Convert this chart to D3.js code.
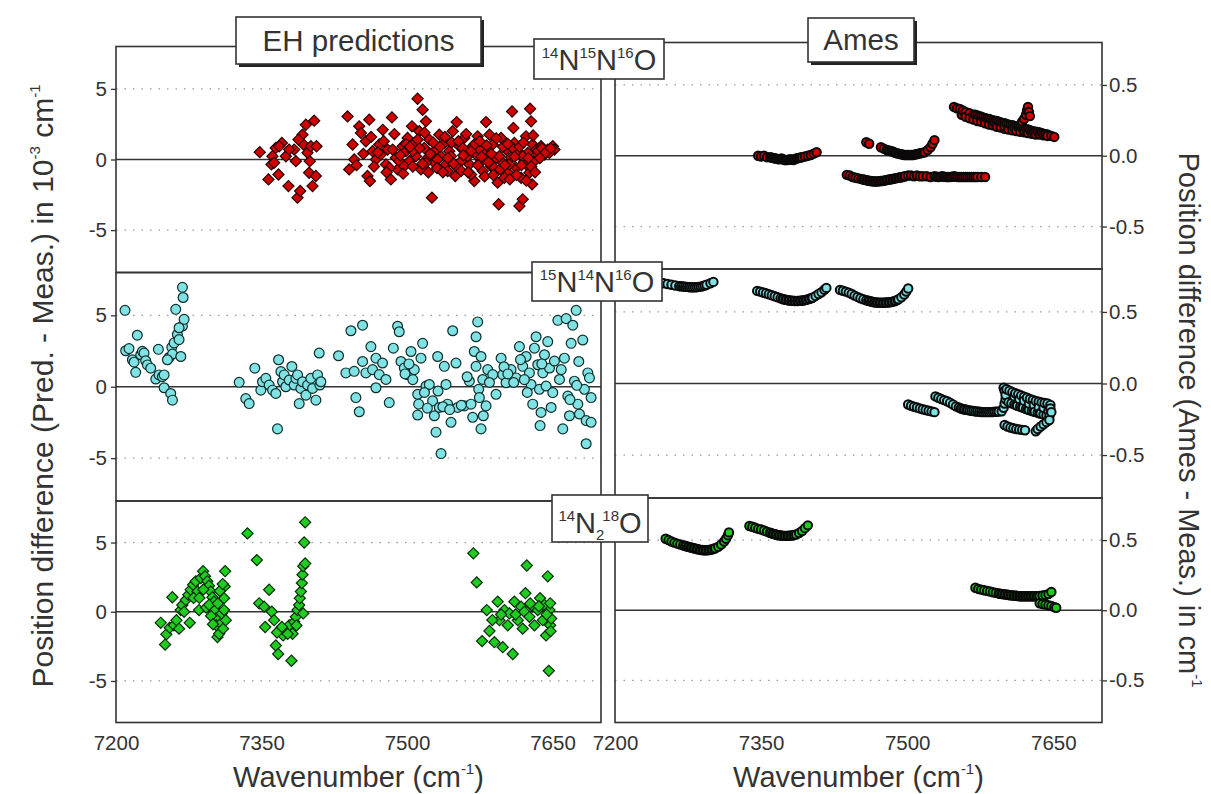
<!DOCTYPE html>
<html>
<head>
<meta charset="utf-8">
<script src="https://cdn.jsdelivr.net/npm/d3@7"></script>
<style>
  body { margin: 0; background: #fff; }
  svg { display: block; }
  text { font-family: "Liberation Sans", Arial, sans-serif; fill: #333; }
</style>
</head>
<body>
<svg id="chart" width="1211" height="794"></svg>
<script>
// ---- tick values -------------------------------------------------------
const xTicks = [7200, 7350, 7500, 7650];
const ehTicks = [-5, 0, 5];          // 10^-3 cm^-1
const amesTicks = [-0.5, 0, 0.5];    // cm^-1

// ---- EH predictions: [wavenumber, Pred - Meas (10^-3 cm^-1)] -------------
const ehRed = [
  [7348.2,0.52],[7357.2,-1.41],[7361.3,0.23],[7360.3,-0.35],[7364.7,0.82],[7367.5,-1.06],[7371,1.17],[7377.8,-1.88],
  [7383.7,0.7],[7385.4,-0.12],[7387.1,-2.7],[7389.9,-2.23],[7392.3,1.76],[7393.3,1.06],[7395.7,2.46],[7397.4,0.47],
  [7399.1,-0.94],[7399.8,-0.12],[7400.9,0.94],[7402.6,-1.88],[7404.3,2.75],[7406,-1.17],[7406.7,0.94],[7368.2,0.94],
  [7363,-0.23],[7375.1,0.23],[7388.1,1.41],[7378.5,0.7],
  [7438.7,3.05],[7440.4,-0.7],[7443.9,1.06],[7445.6,0],[7450.7,2.35],[7452.5,1.88],[7457.6,1.29],[7459.3,-1.17],
  [7461.1,2.82],[7461.8,-1.53],[7464.5,0.59],[7468,0],[7471.4,1.06],[7473.1,0.35],[7478.3,-0.35],[7480,0.7],
  [7483.4,-1.41],[7484.5,2.98],[7485.2,0.7],[7488.6,0.12],[7490.3,-0.7],[7495.5,0.94],[7498.9,0.59],[7500.6,1.53],
  [7502.3,-0.12],[7505.1,2.35],[7507.5,1.17],[7509.2,0.23],[7510.9,4.3],[7512.7,2],[7514.4,-0.7],[7516.1,3.52],
  [7517.8,0.82],[7519.5,2.7],[7521.3,0.12],[7523,1.41],[7525.7,-2.7],[7528.1,-0.23],[7529.9,0.7],[7533.3,1.76],
  [7535,0.23],[7538.5,1.17],[7540.2,-0.35],[7543.6,0.59],[7547.1,2],[7549.8,-1.17],[7551.2,2.65],[7554,0.94],
  [7555.7,-0.12],[7559.1,1.53],[7560.8,0.47],[7564.3,-0.35],[7567.7,0.94],[7569.4,-1.53],[7571.2,0.35],[7572.9,1.64],
  [7576.3,-0.12],[7578.1,-0.82],[7581.5,2.65],[7583.2,0.59],[7585,1.76],[7586.7,-0.47],[7588.4,1.06],[7591.8,0.12],
  [7593.5,-1.64],[7594.5,-3.17],[7597,1.53],[7598.7,-0.23],[7602.1,0.7],[7603.8,-0.94],[7607.3,0.16],[7608.3,3.4],
  [7609.7,2.23],[7610.7,1.17],[7612.5,-0.59],[7614.2,0.59],[7615.9,-3.29],[7617.6,-1.29],[7619.3,-2.82],[7621,-0.12],
  [7622.7,1.64],[7624.5,0.47],[7626.2,-0.94],[7626.9,3.59],[7627.9,2.7],[7629,-1.76],[7629.6,1.06],[7631.4,-0.12],
  [7633.1,0.7],[7638.2,0.94],[7641.7,0.35],[7645.1,0.7],[7650.3,0.94],[7652,0.7],
  [7492,-0.12],[7497.2,-0.47],[7505.8,0.59],[7519.5,-0.23],[7531.6,0],[7541.9,-0.82],[7545.3,0.23],[7552.2,-0.59],
  [7557.4,0.82],[7562.5,0.23],[7566,-1.06],[7574.6,0.7],[7579.8,0.35],[7590.1,-0.59],[7595.2,0.23],[7600.4,-1.29],
  [7605.5,-0.35],[7609,0.82],[7619.3,0.23],[7622.7,-0.35],[7634.8,0.35],[7640,0.59],[7646.8,0.47],
  [7470,0.5],[7476,1.3],[7482,-0.6],[7487,1.8],[7493,0.3],[7496,-1.0],[7499,1.1],[7503,0.9],[7506,-0.5],[7511,1.4],
  [7513,0.8],[7516,-0.3],[7518,1.9],[7522,-0.9],[7524,0.4],[7527,1.2],[7531,-0.6],[7534,0.9],[7537,-0.9],[7539,1.6],
  [7542,0.1],[7546,1.2],[7548,-0.3],[7553,1.3],[7556,-0.8],[7558,0.3],[7561,1.8],[7563,-0.9],[7566,0.6],[7570,1.1],
  [7573,-0.4],[7575,1.3],[7577,0.2],[7580,-1.2],[7582,1.0],[7584,-0.2],[7587,0.4],[7589,-1.1],[7592,1.5],[7596,-0.7],
  [7599,0.9],[7601,-0.4],[7604,1.1],[7606,-1.4],[7611,0.2],[7613,-1.1],[7616,0.9],[7618,-0.4],[7620,1.2],[7623,-1.5],
  [7625,0.1],[7628,-0.5],[7630,1.7],[7632,-0.9],[7635,0.6],[7637,0.1],[7639,0.8],[7643,0.5],[7648,0.8],[7455,0.4],
  [7448,-0.4],[7463,1.6],[7466,-0.5],[7475,2.1],[7479,-0.9]
];

const ehCyan = [
  [7209.3,5.35],[7210,2.52],[7213.4,2.67],[7216.9,1.89],[7218.6,1.72],[7220.3,1.01],[7222,3.61],[7225.5,2.24],
  [7227.2,2.48],[7228.9,2.36],[7230.6,1.82],[7232.4,1.53],[7235.8,1.3],[7241,0.54],[7243.7,2.62],[7244.4,0.83],
  [7247.8,0.71],[7249.6,0.83],[7249.6,-0.07],[7254.7,2.05],[7256.4,-0.47],[7258.2,-0.94],[7257.5,2.76],[7258.2,2.29],
  [7259.9,3.07],[7261.6,5.42],[7263.3,3.66],[7265,3.3],[7266.8,2.12],[7268.5,6.96],[7269.2,6.25],[7268.5,4.25],
  [7270.2,4.72],[7265,4.13],[7253,1.89],
  [7327,0.31],[7333.8,-0.83],[7337.3,-1.18],[7343.1,1.3],[7349.3,-0.24],[7351,0.35],[7354.5,0.59],[7357.9,0.12],
  [7361.4,-0.24],[7364.8,-0.47],[7366.5,-2.95],[7367.6,1.89],[7370,1.06],[7371.7,0.35],[7373.4,0.83],[7375.1,0],
  [7378.6,0.47],[7381.3,1.42],[7383.7,0.12],[7385.4,0.59],[7387.2,0.83],[7388.9,-1.18],[7390.6,-0.12],[7392.3,0.35],
  [7395.8,-0.59],[7397.5,0.12],[7400.9,0.59],[7402.6,-0.12],[7406.1,-0.94],[7407.8,0.83],[7409.5,2.36],[7410.2,0.12],
  [7411.2,0.35],
  [7429.4,2.17],[7437,0.97],[7442.2,3.92],[7447.3,-0.76],[7450.8,-1.75],[7445.6,1.08],[7454.2,4.31],[7454.2,1.77],
  [7457.6,0.97],[7462.8,2.81],[7464.5,1.2],[7468,2],[7468,-0.07],[7471.4,0.85],[7474.8,1.66],[7478.3,0.51],
  [7481.7,-1.11],[7485.9,2.7],[7490.3,4.24],[7492,3.85],[7493.8,1.77],[7497.2,1.31],[7500.6,0.85],[7504.1,2.47],
  [7507.5,1.2],[7511,-0.53],[7512,-1.22],[7511,-1.98],[7514.4,2],[7516.1,3.04],[7519.6,0.05],[7523,0.16],
  [7526.4,-0.99],[7528.2,-2.03],[7529.9,-3.18],[7531.6,2.12],[7533.3,-1.45],[7535.1,-4.68],[7538.5,1.43],[7540.2,0.16],
  [7541.9,-1.22],[7545.4,-2.49],[7547.1,3.92],[7550.5,1.66],[7552.2,-1.45],[7559.1,-1.34],[7564.3,0.39],[7566,-1.22],
  [7567.7,-2.14],[7569.4,2.47],[7571.2,1.43],[7571.2,3.5],[7572.9,4.54],[7573.9,-0.18],[7574.6,-0.76],[7576.3,-2.95],
  [7576.3,2.12],[7578.1,0.51],[7578.7,-2.03],[7581.5,-1.34],[7583.2,1.2],[7588.4,0.85],[7591.8,-0.53],[7597,2],
  [7598.7,0.85],[7602.1,0.28],[7607.3,1.2],[7612.5,0.62],[7615.9,2.81],[7619.3,1.43],[7622.8,2.12],[7626.2,0.97],
  [7627.9,0.16],[7629.6,-1.22],[7631.4,2.7],[7633.1,3.5],[7634.8,1.54],[7636.5,-0.18],[7637.2,-2.72],[7638.2,-1.8],
  [7640,0.97],[7641.7,2.24],[7643.4,0.05],[7645.1,3.16],[7646.9,1.31],[7648.6,-1.45],[7650.3,-0.41],[7655.5,4.65],
  [7657.2,0.51],[7660.6,-2.95],[7662.3,2],[7664.1,4.77],[7665.8,-0.65],[7667.5,-2.03],[7669.2,3.04],[7670.9,4.31],
  [7672.6,0.39],[7674.4,5.35],[7676.1,-1.22],[7677.1,1.77],[7677.8,-1.91],[7681.2,3.27],[7682.9,-0.18],[7684.7,-2.37],
  [7684.7,-3.99],[7686.4,0.97],[7688.1,0.62],[7689.8,-0.76],[7689.8,-2.49],
  [7498,0.9],[7502,1.6],[7506,0.5],[7518,-0.4],[7521,-1.5],[7532,-0.3],[7537,-1.4],[7544,-1.6],[7556,-1.3],
  [7562,0.7],[7585,0.3],[7600,1.4],[7604,0.9],[7610,0.3],[7617,1.9],[7621,0.5],[7624,-0.4],[7639,1.6],[7652,1.8],
  [7659,1.2],[7668,-0.9],[7675,0.1]
];

const ehGreen = [
  [7246.1,-0.8],[7250.6,-2.37],[7251.9,-1.63],[7255.4,-1.15],[7258.1,1.05],[7259.8,-0.98],[7262.3,-0.61],[7265,-1.22],
  [7266.7,0.12],[7268.4,0.49],[7270.2,0],[7271.9,0.85],[7274.6,1.22],[7276,-0.8],[7277,1.59],[7279.5,1.95],
  [7282.2,2.2],[7283.9,1.46],[7285.6,0.12],[7287.4,2.44],[7289.8,2.93],[7291.8,2.56],[7294.2,2.2],[7295.9,1.88],
  [7297.7,1.46],[7299.4,1.05],[7301.1,0.73],[7302.2,0.12],[7302.9,-0.49],[7303.5,-0.98],[7304.6,-1.83],[7306.3,-1.59],
  [7308,-0.85],[7309,-0.12],[7310.4,-1.22],[7311.4,0.12],[7311.4,0.98],[7312.1,1.83],[7312.5,2.93],[7313.2,-0.61],
  [7280,1.0],[7286,1.0],[7290,1.6],[7293,0.3],[7296,0.5],[7298,-0.3],[7300,-0.9],[7305,0.6],[7307,1.5],[7310,2.0],
  [7335.5,5.66],[7345.2,3.73],[7347.6,0.61],[7352.7,0.37],[7353.8,-1.1],[7357.9,1.59],[7360.6,0],[7363,-0.61],
  [7364.8,-2.44],[7367.2,-3.05],[7369.9,-1.22],[7372.3,-1.71],[7375.1,-1.34],[7378.5,-0.98],[7380.9,-3.54],[7382,-1.59],
  [7383.7,-0.73],[7385.4,-0.37],[7387.1,0.12],[7388.8,0.49],[7389.5,0.98],[7390.6,1.46],[7391.6,2.07],[7392.3,2.68],
  [7393,3.29],[7394,5],[7395,6.46],[7395,3.49],[7393,-0.12],[7366,-1.5],[7371,-1.1],[7377,-1.6],[7386,-1.0],
  [7568.4,4.22],[7571.9,2.12],[7577.4,-2.12],[7582.2,0.12],[7585,-1.39],[7590.1,-2.2],[7593.5,0.73],[7595.3,-0.61],
  [7598.7,-2.56],[7600.4,0.12],[7603.9,-0.98],[7605.6,-0.12],[7609,-3.05],[7610.7,0.73],[7614.2,-0.61],[7617.6,0.37],
  [7619.3,-1.22],[7621,0],[7622.1,1.34],[7623.5,3.34],[7626.2,-0.37],[7629.6,0.37],[7631.4,-0.98],[7634.8,0.12],
  [7637.2,0.98],[7640,-0.61],[7641.7,0.49],[7643.4,-1.71],[7645.1,2.56],[7646.2,-4.27],[7646.9,0.12],[7647.6,-0.98],
  [7648.6,-0.49],[7647.6,0.61],[7588,-0.6],[7597,-0.2],[7612,-0.2],[7627,0.6],[7636,0.4],[7644,-0.2],[7648,-1.4]
];

// ---- Ames: [wavenumber, Ames - Meas (cm^-1)] ----------------------------
const amesRed = [
  [7347,0],[7350,-0.005],[7353,0],[7356,-0.01],[7359,-0.01],[7362,-0.015],[7365,-0.02],[7368,-0.025],[7371,-0.02],
  [7374,-0.03],[7377,-0.03],[7380,-0.025],[7383,-0.03],[7386,-0.02],[7389,-0.015],[7392,-0.01],[7395,-0.005],
  [7398,0],[7401,0.005],[7404,0.015],[7407,0.025],
  [7360.5,-0.012],[7363.5,-0.018],[7366.5,-0.022],[7369.5,-0.023],[7372.5,-0.025],[7375.5,-0.03],[7378.5,-0.028],
  [7381.5,-0.028],[7384.5,-0.025],[7387.5,-0.018],[7390.5,-0.012],
  [7458,0.095],[7461,0.085],[7473,0.06],[7476,0.05],[7479,0.04],[7482,0.035],[7485,0.03],[7488,0.02],[7491,0.015],
  [7494,0.01],[7497,0.005],[7500,0.005],[7503,0.005],[7506,0.005],[7509,0.01],[7512,0.015],[7515,0.02],[7518,0.025],
  [7480.5,0.038],[7483.5,0.032],[7486.5,0.025],[7489.5,0.018],[7492.5,0.012],[7495.5,0.008],[7498.5,0.005],
  [7501.5,0.005],[7504.5,0.005],[7507.5,0.008],[7510.5,0.012],[7513.5,0.018],[7516.5,0.022],
  [7521,0.04],[7524,0.06],[7526,0.085],[7528,0.11],
  [7438,-0.135],[7441,-0.14],[7444,-0.15],[7447,-0.155],[7450,-0.16],[7453,-0.165],[7456,-0.17],[7459,-0.175],
  [7462,-0.178],[7465,-0.18],[7468,-0.182],[7471,-0.18],[7474,-0.178],[7477,-0.175],[7480,-0.17],[7483,-0.166],
  [7486,-0.162],[7489,-0.158],[7492,-0.154],[7495,-0.15],[7498,-0.145],[7501,-0.14],[7504,-0.14],[7507,-0.145],
  [7455,-0.168],[7458,-0.172],[7461,-0.177],[7464,-0.18],[7467,-0.182],[7470,-0.181],[7473,-0.179],[7476,-0.176],
  [7479,-0.172],[7482,-0.168],[7485,-0.164],[7488,-0.16],[7491,-0.156],[7494,-0.152],[7497,-0.147],
  [7510,-0.14],[7513,-0.145],[7516,-0.145],[7520,-0.145],[7524,-0.15],[7528,-0.145],[7532,-0.15],[7536,-0.145],
  [7530,-0.148],[7534,-0.148],[7538,-0.148],[7542,-0.15],[7546,-0.148],[7550,-0.148],[7554,-0.15],[7558,-0.15],
  [7562,-0.15],[7566,-0.15],[7570,-0.15],
  [7540,-0.15],[7544,-0.15],[7548,-0.145],[7552,-0.15],[7556,-0.15],[7560,-0.15],[7564,-0.15],[7568,-0.15],
  [7572,-0.15],[7576,-0.15],[7580,-0.15],
  [7548,0.345],[7551,0.335],[7554,0.33],[7557,0.32],[7560,0.31],[7564,0.3],[7568,0.29],[7572,0.285],[7576,0.275],
  [7580,0.265],[7584,0.26],[7588,0.25],[7592,0.245],[7596,0.235],[7600,0.23],[7604,0.22],[7608,0.215],[7612,0.205],
  [7616,0.2],[7620,0.19],[7624,0.185],[7628,0.175],[7632,0.17],[7636,0.165],[7640,0.155],[7644,0.15],[7648,0.14],
  [7651,0.133],
  [7556,0.29],[7560,0.275],[7564,0.265],[7568,0.255],[7572,0.245],[7576,0.24],[7580,0.23],[7584,0.22],[7588,0.215],
  [7592,0.205],[7596,0.2],[7600,0.19],[7604,0.185],[7608,0.18],[7612,0.175],[7616,0.17],[7620,0.165],[7624,0.16],
  [7628,0.155],[7632,0.15],[7636,0.15],[7640,0.145],[7644,0.14],
  [7570,0.29],[7574,0.28],[7578,0.27],[7582,0.262],[7586,0.255],[7590,0.248],[7594,0.24],[7598,0.232],[7602,0.225],
  [7606,0.218],[7610,0.21],[7614,0.202],[7618,0.195],[7622,0.188],[7626,0.18],[7630,0.172],[7634,0.168],[7638,0.16],
  [7642,0.152],[7590,0.23],[7600,0.21],[7610,0.195],[7620,0.178],[7630,0.163],[7640,0.15],
  [7618,0.24],[7620,0.26],[7622,0.29],[7623,0.32],[7624,0.345],[7625,0.31],[7626,0.28]
];

const amesCyan = [
  [7250,0.7],[7254,0.695],[7258,0.69],[7262,0.685],[7266,0.68],[7270,0.678],[7274,0.675],[7278,0.672],[7282,0.672],
  [7286,0.675],[7290,0.68],[7294,0.69],[7298,0.7],[7301,0.71],
  [7268,0.679],[7272,0.676],[7276,0.673],[7280,0.672],[7284,0.673],[7288,0.677],[7292,0.685],
  [7346,0.647],[7349,0.642],[7352,0.636],[7355,0.63],[7358,0.624],[7361,0.617],[7364,0.61],[7367,0.603],[7370,0.595],
  [7373,0.588],[7376,0.584],[7379,0.58],[7382,0.578],[7385,0.577],[7388,0.577],[7391,0.578],[7394,0.582],[7397,0.586],
  [7372,0.59],[7375,0.585],[7378,0.582],[7381,0.579],[7384,0.577],[7387,0.577],[7390,0.578],[7393,0.58],[7396,0.584],
  [7399,0.59],[7402,0.597],
  [7400,0.592],[7403,0.6],[7406,0.612],[7409,0.625],[7412,0.638],[7415,0.655],[7417,0.668],
  [7431,0.654],[7434,0.648],[7437,0.642],[7440,0.635],[7443,0.625],[7446,0.614],[7449,0.605],[7452,0.596],[7455,0.588],
  [7458,0.582],[7461,0.576],[7464,0.571],[7467,0.567],[7470,0.565],[7473,0.564],[7476,0.565],[7479,0.566],[7482,0.568],
  [7460,0.578],[7463,0.573],[7466,0.568],[7469,0.566],[7472,0.564],[7475,0.564],[7478,0.566],[7481,0.567],[7484,0.57],
  [7487,0.575],[7490,0.584],
  [7485,0.572],[7488,0.578],[7491,0.588],[7494,0.602],[7497,0.622],[7499,0.642],[7501,0.664],
  [7501,-0.147],[7504,-0.155],[7507,-0.162],[7510,-0.168],[7513,-0.174],[7516,-0.18],[7519,-0.185],[7522,-0.19],
  [7525,-0.195],[7528,-0.2],
  [7529,-0.09],[7532,-0.1],[7535,-0.108],[7538,-0.116],[7541,-0.124],[7544,-0.135],[7547,-0.147],[7550,-0.16],
  [7553,-0.168],[7556,-0.176],[7559,-0.182],[7562,-0.186],[7566,-0.19],[7570,-0.195],[7574,-0.198],[7578,-0.2],
  [7555,-0.174],[7558,-0.18],[7561,-0.184],[7564,-0.188],[7568,-0.192],[7572,-0.196],[7576,-0.199],[7580,-0.2],
  [7584,-0.2],[7588,-0.199],[7592,-0.197],
  [7582,-0.2],[7586,-0.2],[7590,-0.198],[7594,-0.196],[7597,-0.194],[7599,-0.17],[7600,-0.14],[7601,-0.11],
  [7601,-0.08],[7600,-0.05],
  [7599,-0.03],[7602,-0.04],[7605,-0.05],[7608,-0.06],[7611,-0.068],[7614,-0.075],[7617,-0.083],[7620,-0.092],
  [7623,-0.1],[7626,-0.108],[7629,-0.115],[7632,-0.122],[7635,-0.127],[7638,-0.132],[7641,-0.136],[7644,-0.14],
  [7647,-0.15],
  [7604,-0.13],[7607,-0.138],[7610,-0.146],[7613,-0.155],[7616,-0.162],[7619,-0.17],[7622,-0.178],[7625,-0.185],
  [7628,-0.192],[7631,-0.198],[7634,-0.204],[7637,-0.21],[7640,-0.216],[7643,-0.222],[7646,-0.228],[7648,-0.2],
  [7647,-0.175],
  [7612,-0.15],[7618,-0.165],[7624,-0.18],[7630,-0.195],[7636,-0.208],
  [7646,-0.255],[7643,-0.27],[7640,-0.285],[7637,-0.3],[7634,-0.318],[7632,-0.334],
  [7600,-0.29],[7603,-0.3],[7606,-0.308],[7609,-0.313],[7612,-0.318],[7615,-0.321],[7618,-0.324],[7621,-0.327],
  [7610,-0.09],[7620,-0.12],[7630,-0.15],[7640,-0.17],[7615,-0.11],[7625,-0.14],[7635,-0.17],[7645,-0.19]
];

const amesGreen = [
  [7252,0.51],[7255,0.5],[7258,0.49],[7261,0.482],[7264,0.475],[7267,0.468],[7270,0.462],[7273,0.456],[7276,0.45],
  [7279,0.445],[7282,0.44],[7285,0.435],[7288,0.43],[7291,0.428],[7294,0.428],[7297,0.43],[7300,0.435],[7303,0.442],
  [7272,0.459],[7275,0.452],[7278,0.447],[7281,0.442],[7284,0.437],[7287,0.432],[7290,0.429],[7293,0.428],
  [7296,0.429],[7299,0.433],[7302,0.44],
  [7306,0.452],[7309,0.468],[7312,0.49],[7314,0.51],[7316,0.535],[7317,0.555],
  [7338,0.6],[7341,0.595],[7344,0.588],[7347,0.58],[7350,0.575],[7353,0.568],[7356,0.56],[7359,0.552],[7362,0.545],
  [7365,0.54],[7368,0.535],[7371,0.532],[7374,0.53],[7377,0.53],[7380,0.532],[7383,0.535],[7386,0.54],
  [7360,0.55],[7363,0.543],[7366,0.538],[7369,0.534],[7372,0.531],[7375,0.53],[7378,0.531],[7381,0.533],[7384,0.537],
  [7389,0.55],[7392,0.565],[7395,0.585],[7398,0.605],
  [7570,0.16],[7573,0.152],[7576,0.147],[7579,0.143],[7582,0.138],[7585,0.133],[7588,0.128],[7591,0.124],[7594,0.12],
  [7597,0.116],[7600,0.113],[7603,0.11],[7606,0.107],[7609,0.105],[7612,0.103],[7615,0.1],[7618,0.1],[7621,0.1],
  [7595,0.118],[7598,0.115],[7601,0.112],[7604,0.109],[7607,0.106],[7610,0.104],[7613,0.102],[7616,0.1],[7619,0.1],
  [7622,0.1],[7625,0.1],[7628,0.1],[7631,0.1],[7634,0.1],
  [7624,0.1],[7627,0.1],[7630,0.1],[7633,0.1],[7636,0.102],[7639,0.105],[7642,0.108],[7645,0.115],[7648,0.13],
  [7636,0.05],[7639,0.045],[7642,0.04],[7645,0.035],[7648,0.03],[7651,0.022],[7653,0.018]
];

// ---- isotopologue labels (text pieces: n = normal, sup, sub) -------------
const isoLabels = [
  [["sup","14"],["n","N"],["sup","15"],["n","N"],["sup","16"],["n","O"]],
  [["sup","15"],["n","N"],["sup","14"],["n","N"],["sup","16"],["n","O"]],
  [["sup","14"],["n","N"],["sub","2"],["sup","18"],["n","O"]]
];

// ---- layout ------------------------------------------------------------
const svg = d3.select("#chart");
const INK = "#333";
const FONT = '"Liberation Sans", Arial, sans-serif';
const xL = d3.scaleLinear().domain([7200, 7700]).range([116, 601]);
const xR = d3.scaleLinear().domain([7200, 7700]).range([615, 1102]);
const leftRows = [[46.5, 272.5], [272.5, 501], [501, 722.5]];
const rightRows = [[42.5, 269], [269, 498], [498, 722.5]];

const rows = [
  { eh: ehRed,   ames: amesRed,   fill: "#d00000", stroke: "#2a0000", ehShape: "diamond", box: [534, 39, 130, 40] },
  { eh: ehCyan,  ames: amesCyan,  fill: "#80e2e2", stroke: "#0d2e2e", ehShape: "circle",  box: [532, 262, 130, 39] },
  { eh: ehGreen, ames: amesGreen, fill: "#20cc20", stroke: "#062e06", ehShape: "diamond", box: [552, 495, 96, 47] }
];

const diamond = d3.symbol().type(d3.symbolSquare).size(62)();
const circleBig = d3.symbol().type(d3.symbolCircle).size(76)();
const circleSmall = d3.symbol().type(d3.symbolCircle).size(56)();

const gridLayer = svg.append("g");
const pointLayer = svg.append("g");
const frameLayer = svg.append("g");
const labelLayer = svg.append("g");

function gridLines(x, y, ticks, zeroVal) {
  ticks.forEach(t => {
    gridLayer.append("line")
      .attr("x1", x.range()[0]).attr("x2", x.range()[1])
      .attr("y1", y(t)).attr("y2", y(t))
      .attr("stroke", t === zeroVal ? INK : "#9a9a9a")
      .attr("stroke-width", t === zeroVal ? 1.6 : 1.3)
      .attr("stroke-dasharray", t === zeroVal ? null : "1.5,7");
  });
}

rows.forEach((r, i) => {
  const yL = d3.scaleLinear().domain([-8, 8]).range([leftRows[i][1], leftRows[i][0]]);
  const yR = d3.scaleLinear().domain([-0.8, 0.8]).range([rightRows[i][1], rightRows[i][0]]);

  gridLines(xL, yL, ehTicks, 0);
  gridLines(xR, yR, amesTicks, 0);

  // EH points
  pointLayer.append("g").selectAll("path").data(r.eh).join("path")
    .attr("d", r.ehShape === "diamond" ? diamond : circleBig)
    .attr("transform", d => `translate(${xL(d[0])},${yL(d[1])})` + (r.ehShape === "diamond" ? " rotate(45)" : ""))
    .attr("fill", r.fill).attr("stroke", r.stroke).attr("stroke-width", 1.2);

  // Ames points, drawn in wavenumber order so dense runs stack up
  pointLayer.append("g").selectAll("path").data(d3.sort(r.ames, d => d[0])).join("path")
    .attr("d", circleSmall)
    .attr("transform", d => `translate(${xR(d[0])},${yR(d[1])})`)
    .attr("fill", r.fill).attr("stroke", "#0a0a0a").attr("stroke-width", 2);

  // frames
  frameLayer.append("rect")
    .attr("x", xL.range()[0]).attr("y", leftRows[i][0])
    .attr("width", xL.range()[1] - xL.range()[0]).attr("height", leftRows[i][1] - leftRows[i][0])
    .attr("fill", "none").attr("stroke", INK).attr("stroke-width", 1.6);
  frameLayer.append("rect")
    .attr("x", xR.range()[0]).attr("y", rightRows[i][0])
    .attr("width", xR.range()[1] - xR.range()[0]).attr("height", rightRows[i][1] - rightRows[i][0])
    .attr("fill", "none").attr("stroke", INK).attr("stroke-width", 1.6);

  // y axes
  const gl = frameLayer.append("g").attr("transform", `translate(${xL.range()[0]},0)`)
    .call(d3.axisLeft(yL).tickValues(ehTicks).tickSize(5).tickPadding(4).tickFormat(d => String(d)));
  const gr = frameLayer.append("g").attr("transform", `translate(${xR.range()[1]},0)`)
    .call(d3.axisRight(yR).tickValues(amesTicks).tickSize(5).tickPadding(2).tickFormat(d => d.toFixed(1)));
  [gl, gr].forEach(g => {
    g.select(".domain").remove();
    g.selectAll("line").attr("stroke", INK).attr("stroke-width", 1.3);
    g.selectAll("text").attr("font-size", 20.5).attr("fill", INK).style("font-family", FONT);
  });

  // isotopologue label box
  const [bx, by, bw, bh] = r.box;
  labelLayer.append("rect").attr("x", bx).attr("y", by).attr("width", bw).attr("height", bh)
    .attr("fill", "#fff").attr("stroke", INK).attr("stroke-width", 1.6);
  const t = labelLayer.append("text").attr("x", bx + bw / 2).attr("y", by + bh - 9)
    .attr("text-anchor", "middle").attr("font-size", 29);
  isoLabels[i].forEach((p, k) => {
    const prev = k > 0 ? isoLabels[i][k - 1][0] : "n";
    const ts = t.append("tspan").text(p[1]);
    if (p[0] === "sup") ts.attr("font-size", 15).attr("dy", prev === "sub" ? -19 : -12);
    else if (p[0] === "sub") ts.attr("font-size", 15).attr("dy", 7);
    else ts.attr("dy", prev === "sup" ? 12 : (prev === "sub" ? -7 : 0));
    if (p[0] === "sup" && prev === "sub") ts.attr("dx", -2);
  });
});

// x axes and titles
[xL, xR].forEach(x => {
  const g = frameLayer.append("g").attr("transform", `translate(0,${leftRows[2][1]})`)
    .call(d3.axisBottom(x).tickValues(xTicks).tickSize(0).tickPadding(13).tickFormat(d => String(d)));
  g.select(".domain").remove();
  g.selectAll("text").attr("font-size", 20.5).attr("fill", INK).style("font-family", FONT);

  const title = frameLayer.append("text")
    .attr("x", (x.range()[0] + x.range()[1]) / 2).attr("y", 787)
    .attr("text-anchor", "middle").attr("font-size", 29);
  title.append("tspan").text("Wavenumber (cm");
  title.append("tspan").text("-1").attr("font-size", 15).attr("dy", -13);
  title.append("tspan").text(")").attr("dy", 13);
});

// y-axis titles
const tl = frameLayer.append("text")
  .attr("transform", "translate(53,386) rotate(-90)")
  .attr("text-anchor", "middle").attr("font-size", 30);
tl.append("tspan").text("Position difference (Pred. - Meas.) in 10");
tl.append("tspan").text("-3").attr("font-size", 15).attr("dy", -13);
tl.append("tspan").text(" cm").attr("dy", 13);
tl.append("tspan").text("-1").attr("font-size", 15).attr("dy", -13);

const tr = frameLayer.append("text")
  .attr("transform", "translate(1179,420) rotate(90)")
  .attr("text-anchor", "middle").attr("font-size", 29);
tr.append("tspan").text("Position difference (Ames - Meas.) in cm");
tr.append("tspan").text("-1").attr("font-size", 15).attr("dy", -13);

// method boxes with drop shadow
function methodBox(x, y, w, h, label) {
  labelLayer.append("rect").attr("x", x + 3).attr("y", y + 3).attr("width", w).attr("height", h).attr("fill", "#222");
  labelLayer.append("rect").attr("x", x).attr("y", y).attr("width", w).attr("height", h)
    .attr("fill", "#fff").attr("stroke", INK).attr("stroke-width", 1.6);
  labelLayer.append("text").attr("x", x + w / 2).attr("y", y + h / 2 + 10)
    .attr("text-anchor", "middle").attr("font-size", 29.5).text(label);
}
methodBox(236, 17, 245, 47, "EH predictions");
methodBox(808, 18, 106, 44, "Ames");
</script>
</body>
</html>
